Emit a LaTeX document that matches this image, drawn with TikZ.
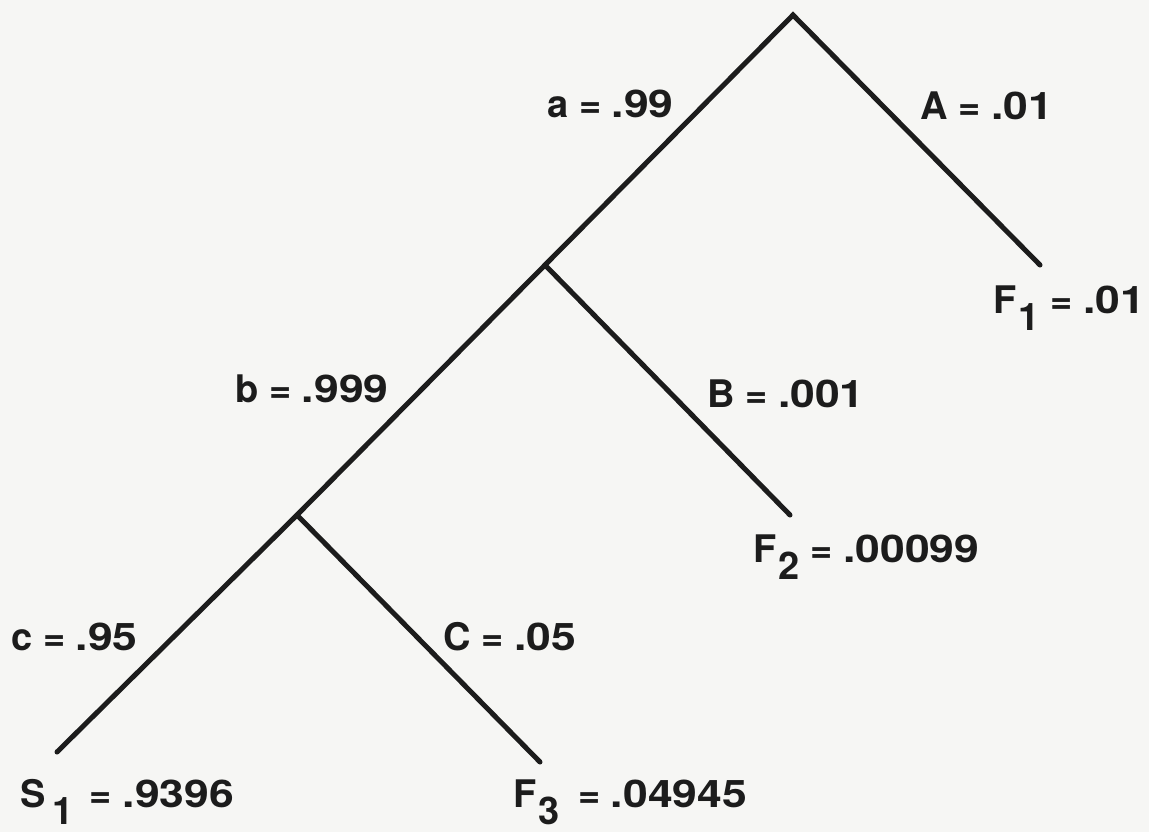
\documentclass[tikz,border=0pt]{standalone}
\usepackage{fontspec}
\setmainfont{TeX Gyre Heros}
\newfontfamily\numfont{TeX Gyre Heros}[FakeStretch=1.17]
\definecolor{paper}{RGB}{246,246,244}
\definecolor{ink}{RGB}{28,28,28}
\newcommand{\lowsub}[1]{\kern0.06em\raisebox{-0.45em}{#1}}
\newcommand{\pv}[1]{{\numfont #1}}
\begin{document}
\begin{tikzpicture}[x=0.5pt,y=-0.5pt,line cap=round,line join=round,
    branch/.style={draw=ink,line width=2.5pt},
    prob/.style={inner sep=0pt,anchor=base west,text=ink,
      font=\fontsize{19}{22}\selectfont\bfseries}]
    \fill[paper] (0,0) rectangle (1149,832);
    \useasboundingbox (0,0) rectangle (1149,832);

    \coordinate (R) at (793,15);
    \coordinate (N1) at (545,265);
    \coordinate (N2) at (297,515);
    \coordinate (EA) at (1040,265);
    \coordinate (EB) at (790,515);
    \coordinate (EC) at (540,762);
    \coordinate (Ec) at (57,752);

    \draw[branch,line join=miter] (EA)--(R)--(N1)--(N2)--(Ec);
    \draw[branch] (N1)--(EB);
    \draw[branch] (N2)--(EC);

    \node[prob] (pa) at (547,117) {a = \pv{.99}};
    \node[prob] (pA) at (920,119) {A = \pv{.01}};
    \node[prob] (pb) at (235,402) {b = \pv{.999}};
    \node[prob] (pB) at (707,407) {B = \pv{.001}};
    \node[prob] (pc) at (11,650) {c = \pv{.95}};
    \node[prob] (pC) at (443,650) {C = \pv{.05}};

    \node[prob] (F1) at (993,313) {F\lowsub{1} = \pv{.01}};
    \node[prob] (F2) at (753,562) {F\lowsub{2} = \pv{.00099}};
    \node[prob] (S1) at (20,807) {S\kern0.12em\lowsub{1}\kern0.15em{} = \pv{.9396}};
    \node[prob] (F3) at (513,807) {F\lowsub{3}\kern0.2em{} = \pv{.04945}};
\end{tikzpicture}
\end{document}
